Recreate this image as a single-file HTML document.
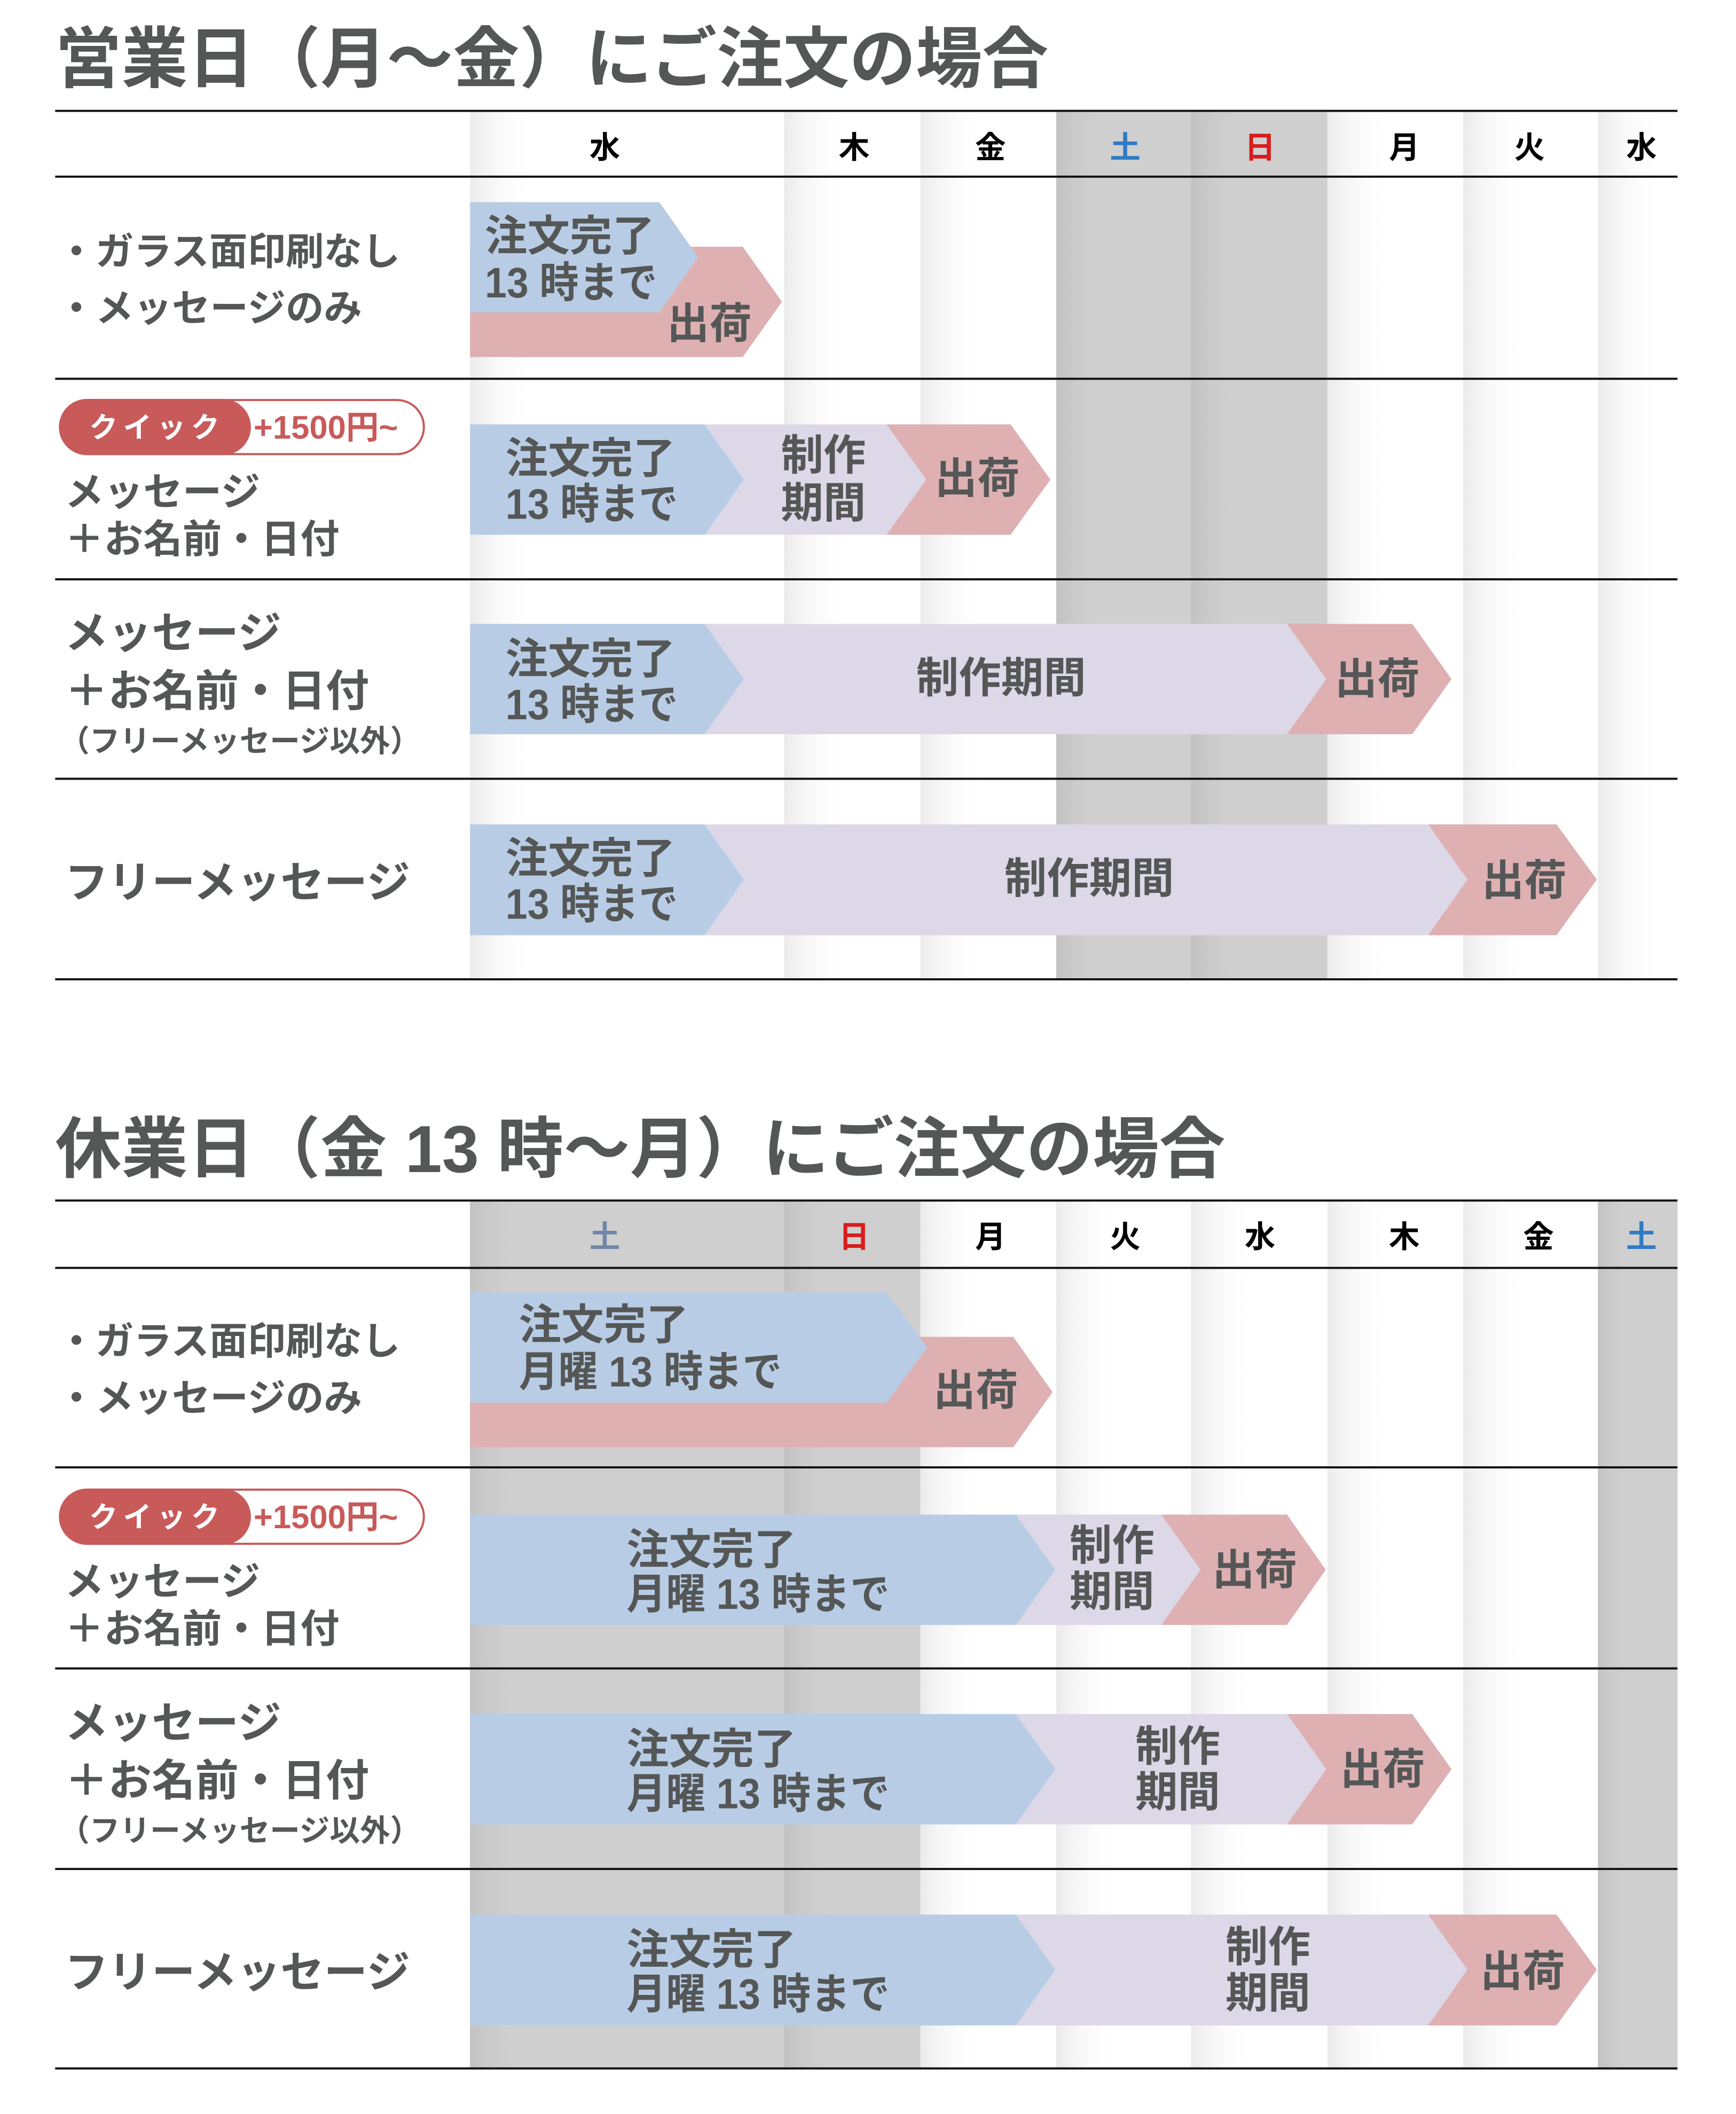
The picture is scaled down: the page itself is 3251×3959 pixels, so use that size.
<!DOCTYPE html>
<html><head><meta charset="utf-8"><style>
html,body{margin:0;padding:0;background:#fff;}
svg{display:block;}
text{font-family:"Liberation Sans","Noto Sans CJK JP",sans-serif;font-weight:bold;fill:#555757;dominant-baseline:central;}
</style></head><body>
<svg width="3251" height="3959" viewBox="0 0 3251 3959" xmlns="http://www.w3.org/2000/svg">
<defs>
<linearGradient id="wd" x1="0" x2="1" y1="0" y2="0"><stop offset="0" stop-color="#ebebeb"/><stop offset="1" stop-color="#ffffff" stop-opacity="0"/></linearGradient>
<linearGradient id="we" x1="0" x2="1" y1="0" y2="0"><stop offset="0" stop-color="#c2c2c2"/><stop offset="1" stop-color="#cfcfcf" stop-opacity="0"/></linearGradient>
</defs>
<g transform="scale(0.9935)">
<!-- Section 1 columns -->
<g>
<rect x="886" y="211" width="120" height="1635" fill="url(#wd)"/>
<rect x="1478" y="211" width="120" height="1635" fill="url(#wd)"/>
<rect x="1735" y="211" width="120" height="1635" fill="url(#wd)"/>
<rect x="1991" y="211" width="511" height="1635" fill="#cfcfcf"/>
<rect x="1991" y="211" width="90" height="1635" fill="url(#we)"/>
<rect x="2245" y="211" width="90" height="1635" fill="url(#we)"/>
<rect x="2502" y="211" width="120" height="1635" fill="url(#wd)"/>
<rect x="2758" y="211" width="120" height="1635" fill="url(#wd)"/>
<rect x="3012" y="211" width="120" height="1635" fill="url(#wd)"/>
</g>
<!-- Section 2 columns -->
<g>
<rect x="886" y="2265" width="849" height="1634" fill="#cfcfcf"/>
<rect x="886" y="2265" width="90" height="1634" fill="url(#we)"/>
<rect x="1478" y="2265" width="90" height="1634" fill="url(#we)"/>
<rect x="1735" y="2265" width="120" height="1634" fill="url(#wd)"/>
<rect x="1991" y="2265" width="120" height="1634" fill="url(#wd)"/>
<rect x="2245" y="2265" width="120" height="1634" fill="url(#wd)"/>
<rect x="2502" y="2265" width="120" height="1634" fill="url(#wd)"/>
<rect x="2758" y="2265" width="120" height="1634" fill="url(#wd)"/>
<rect x="3012" y="2265" width="150" height="1634" fill="#cfcfcf"/>
<rect x="3012" y="2265" width="60" height="1634" fill="url(#we)"/>
</g>
<!-- lines -->
<g fill="#111">
<rect x="104" y="207" width="3058" height="4"/>
<rect x="104" y="331" width="3058" height="4"/>
<rect x="104" y="712" width="3058" height="4"/>
<rect x="104" y="1090" width="3058" height="4"/>
<rect x="104" y="1466" width="3058" height="4"/>
<rect x="104" y="1844" width="3058" height="4"/>
<rect x="104" y="2261" width="3058" height="4"/>
<rect x="104" y="2388" width="3058" height="4"/>
<rect x="104" y="2764" width="3058" height="4"/>
<rect x="104" y="3143" width="3058" height="4"/>
<rect x="104" y="3521" width="3058" height="4"/>
<rect x="104" y="3897" width="3058" height="4"/>
</g>
<!-- Titles -->
<text x="104" y="112" font-size="125">営業日（月〜金）にご注文の場合</text>
<text x="104" y="2167" font-size="125">休業日（金 13 時〜月）にご注文の場合</text>
<!-- Header S1 -->
<g font-size="58" text-anchor="middle">
<text x="1140" y="279" style="fill:#000">水</text>
<text x="1610" y="279" style="fill:#000">木</text>
<text x="1867" y="279" style="fill:#000">金</text>
<text x="2121" y="279" style="fill:#2f7bc4">土</text>
<text x="2375" y="279" style="fill:#d81c1c">日</text>
<text x="2647" y="279" style="fill:#000">月</text>
<text x="2883" y="279" style="fill:#000">火</text>
<text x="3094" y="279" style="fill:#000">水</text>
</g>
<g font-size="58" text-anchor="middle">
<text x="1140" y="2332" style="fill:#6f86a8">土</text>
<text x="1610" y="2332" style="fill:#d81c1c">日</text>
<text x="1867" y="2332" style="fill:#000">月</text>
<text x="2121" y="2332" style="fill:#000">火</text>
<text x="2375" y="2332" style="fill:#000">水</text>
<text x="2647" y="2332" style="fill:#000">木</text>
<text x="2900" y="2332" style="fill:#000">金</text>
<text x="3094" y="2332" style="fill:#2f7bc4">土</text>
</g>
<!-- S1 arrows -->
<polygon points="886,465 1400,465 1474,569 1400,673 886,673" fill="#deb0b2"/>
<polygon points="886,381 1243,381 1316,485 1243,589 886,589" fill="#b8cde5"/>
<rect x="886" y="800" width="870" height="208" fill="#dcd8e8"/>
<polygon points="886,800 1328,800 1402,904 1328,1008 886,1008" fill="#b8cde5"/>
<polygon points="1671,800 1905,800 1980,904 1905,1008 1671,1008 1746,904" fill="#deb0b2"/>
<rect x="886" y="1176" width="1620" height="208" fill="#dcd8e8"/>
<polygon points="886,1176 1328,1176 1402,1280 1328,1384 886,1384" fill="#b8cde5"/>
<polygon points="2426,1176 2662,1176 2736,1280 2662,1384 2426,1384 2500,1280" fill="#deb0b2"/>
<rect x="886" y="1554" width="1880" height="209" fill="#dcd8e8"/>
<polygon points="886,1554 1328,1554 1402,1658 1328,1763 886,1763" fill="#b8cde5"/>
<polygon points="2692,1554 2934,1554 3010,1658 2934,1763 2692,1763 2766,1658" fill="#deb0b2"/>
<!-- S2 arrows -->
<polygon points="886,2520 1910,2520 1984,2624 1910,2728 886,2728" fill="#deb0b2"/>
<polygon points="886,2436 1671,2436 1748,2540 1671,2644 886,2644" fill="#b8cde5"/>
<rect x="886" y="2855" width="1380" height="208" fill="#dcd8e8"/>
<polygon points="886,2855 1915,2855 1989,2959 1915,3063 886,3063" fill="#b8cde5"/>
<polygon points="2189,2855 2426,2855 2499,2959 2426,3063 2189,3063 2263,2959" fill="#deb0b2"/>
<rect x="886" y="3231" width="1620" height="208" fill="#dcd8e8"/>
<polygon points="886,3231 1915,3231 1989,3335 1915,3439 886,3439" fill="#b8cde5"/>
<polygon points="2426,3231 2662,3231 2736,3335 2662,3439 2426,3439 2500,3335" fill="#deb0b2"/>
<rect x="886" y="3609" width="1880" height="209" fill="#dcd8e8"/>
<polygon points="886,3609 1915,3609 1989,3713 1915,3818 886,3818" fill="#b8cde5"/>
<polygon points="2692,3609 2934,3609 3010,3713 2934,3818 2692,3818 2766,3713" fill="#deb0b2"/>
<!-- S1 arrow text -->
<g font-size="80">
<text x="914" y="445">注文完了</text><text x="914" y="533" textLength="325" lengthAdjust="spacingAndGlyphs">13 時まで</text>
<text x="1257" y="610">出荷</text>
<text x="953" y="864">注文完了</text><text x="953" y="950" textLength="325" lengthAdjust="spacingAndGlyphs">13 時まで</text>
<text x="1552" y="858" text-anchor="middle">制作</text><text x="1552" y="948" text-anchor="middle">期間</text>
<text x="1842" y="902" text-anchor="middle">出荷</text>
<text x="953" y="1242">注文完了</text><text x="953" y="1328" textLength="325" lengthAdjust="spacingAndGlyphs">13 時まで</text>
<text x="1887" y="1278" text-anchor="middle">制作期間</text>
<text x="2596" y="1280" text-anchor="middle">出荷</text>
<text x="953" y="1618">注文完了</text><text x="953" y="1704" textLength="325" lengthAdjust="spacingAndGlyphs">13 時まで</text>
<text x="2053" y="1656" text-anchor="middle">制作期間</text>
<text x="2873" y="1660" text-anchor="middle">出荷</text>
</g>
<!-- S2 arrow text -->
<g font-size="80">
<text x="978" y="2497">注文完了</text><text x="978" y="2586" textLength="496" lengthAdjust="spacingAndGlyphs">月曜 13 時まで</text>
<text x="1839" y="2621" text-anchor="middle">出荷</text>
<text x="1181" y="2921">注文完了</text><text x="1181" y="3005" textLength="496" lengthAdjust="spacingAndGlyphs">月曜 13 時まで</text>
<text x="2096" y="2913" text-anchor="middle">制作</text><text x="2096" y="3000" text-anchor="middle">期間</text>
<text x="2365" y="2959" text-anchor="middle">出荷</text>
<text x="1181" y="3297">注文完了</text><text x="1181" y="3381" textLength="496" lengthAdjust="spacingAndGlyphs">月曜 13 時まで</text>
<text x="2220" y="3292" text-anchor="middle">制作</text><text x="2220" y="3378" text-anchor="middle">期間</text>
<text x="2606" y="3335" text-anchor="middle">出荷</text>
<text x="1181" y="3675">注文完了</text><text x="1181" y="3759" textLength="496" lengthAdjust="spacingAndGlyphs">月曜 13 時まで</text>
<text x="2390" y="3670" text-anchor="middle">制作</text><text x="2390" y="3757" text-anchor="middle">期間</text>
<text x="2870" y="3716" text-anchor="middle">出荷</text>
</g>
<!-- Left labels -->
<g>
<text x="108" y="475" font-size="72">・ガラス面印刷なし</text>
<text x="108" y="582" font-size="72">・メッセージのみ</text>
<rect x="113" y="754" width="686" height="102" rx="51" fill="#fff" stroke="#c85a5a" stroke-width="4"/>
<path d="M164,752 H420 A51,51 0 0 1 420,858 H164 A53,53 0 0 1 164,752 Z" fill="#c85a5a"/>
<text x="168" y="806" font-size="54" letter-spacing="10" style="fill:#fff">クイック</text>
<text x="478" y="806" font-size="62" style="fill:#c85a5a">+1500円~</text>
<text x="122" y="927" font-size="74">メッセージ</text>
<text x="122" y="1016" font-size="74">＋お名前・日付</text>
<text x="122" y="1194" font-size="82">メッセージ</text>
<text x="122" y="1303" font-size="82">＋お名前・日付</text>
<text x="112" y="1397" font-size="57">（フリーメッセージ以外）</text>
<text x="122" y="1664" font-size="82">フリーメッセージ</text>
</g>
<g transform="translate(0,2054)">
<text x="108" y="475" font-size="72">・ガラス面印刷なし</text>
<text x="108" y="582" font-size="72">・メッセージのみ</text>
<rect x="113" y="754" width="686" height="102" rx="51" fill="#fff" stroke="#c85a5a" stroke-width="4"/>
<path d="M164,752 H420 A51,51 0 0 1 420,858 H164 A53,53 0 0 1 164,752 Z" fill="#c85a5a"/>
<text x="168" y="806" font-size="54" letter-spacing="10" style="fill:#fff">クイック</text>
<text x="478" y="806" font-size="62" style="fill:#c85a5a">+1500円~</text>
<text x="122" y="927" font-size="74">メッセージ</text>
<text x="122" y="1016" font-size="74">＋お名前・日付</text>
<text x="122" y="1194" font-size="82">メッセージ</text>
<text x="122" y="1303" font-size="82">＋お名前・日付</text>
<text x="112" y="1397" font-size="57">（フリーメッセージ以外）</text>
<text x="122" y="1664" font-size="82">フリーメッセージ</text>
</g>
</g>
</svg>
</body></html>
